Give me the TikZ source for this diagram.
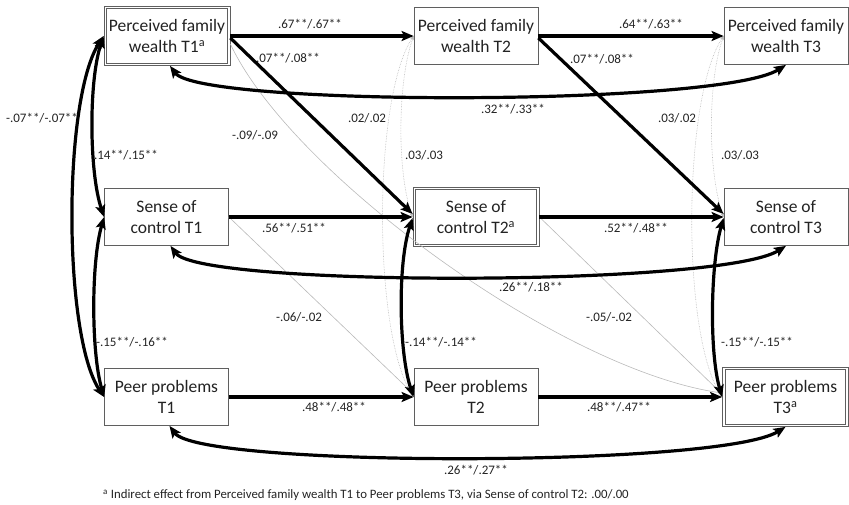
\documentclass[tikz,border=0pt]{standalone}
\usepackage{fontspec}
\setmainfont{Carlito}
\usetikzlibrary{arrows.meta,calc}
\definecolor{boxgray}{RGB}{95,95,95}
\definecolor{txt}{RGB}{35,35,35}
\definecolor{thingray}{RGB}{185,185,185}
\tikzset{
  varbox/.style={draw=boxgray, line width=0.8pt, fill=white, minimum width=124pt, minimum height=57pt,
    inner sep=0pt, align=center, text=txt, font=\fontsize{17.5}{21}\selectfont},
  dblbox/.style={varbox, minimum width=126pt, minimum height=59pt},
  innerframe/.style={draw=boxgray, line width=0.7pt},
  lab/.style={font=\fontsize{13}{15}\selectfont, text=txt, inner sep=0pt},
  bigtip/.tip={Stealth[length=12pt,width=10pt,inset=2.5pt]},
  strong/.style={draw=black, line width=3.2pt, -bigtip},
  strongcorr/.style={draw=black, line width=3.2pt, bigtip-bigtip},
  weak/.style={draw=thingray, line width=0.6pt, -{Stealth[length=4pt,width=3.5pt]}},
  weakcorr/.style={draw=thingray, line width=0.6pt, densely dotted, {Stealth[length=4pt,width=3.5pt]}-{Stealth[length=4pt,width=3.5pt]}},
}
\begin{document}
\begin{tikzpicture}[x=1pt,y=-1pt]
\useasboundingbox (0,0) rectangle (849,504);
% nodes
\node[dblbox] (pfw1) at (167,36) {Perceived family\\wealth T1\textsuperscript{a}};
\node[varbox] (pfw2) at (476,36) {Perceived family\\wealth T2};
\node[varbox] (pfw3) at (786,36) {Perceived family\\wealth T3};
\node[varbox] (sc1) at (166.5,217) {Sense of\\control T1};
\node[dblbox] (sc2) at (476,217) {Sense of\\control T2\textsuperscript{a}};
\node[varbox] (sc3) at (786,217) {Sense of\\control T3};
\node[varbox] (pp1) at (166.5,397) {Peer problems\\T1};
\node[varbox] (pp2) at (476,397) {Peer problems\\T2};
\node[dblbox] (pp3) at (785.5,397) {Peer problems\\T3\textsuperscript{a}};
% inner frames of the double boxes
\foreach \n in {pfw1,sc2,pp3}
  \draw[innerframe] ([shift={(3.2pt,2.6pt)}]\n.south west) rectangle ([shift={(-3.2pt,-2.6pt)}]\n.north east);

% thin (non-significant) paths
\draw[weak] ([yshift=-8pt]pfw1.east) .. controls (290,172) and (560,370) .. ([yshift=4pt]pp3.west);
\draw[weak] (sc1.east) -- ([yshift=3pt]pp2.west);
\draw[weak] (sc2.east) -- ([yshift=3pt]pp3.west);
\draw[weakcorr] (pfw2.west) .. controls +(-41,62) and +(-41,-62) .. (pp2.west);
\draw[weakcorr] (pfw2.west) .. controls +(-16,45) and +(-16,-45) .. (sc2.west);
\draw[weakcorr] (pfw3.west) .. controls +(-41,62) and +(-41,-62) .. (pp3.west);
\draw[weakcorr] (pfw3.west) .. controls +(-16,45) and +(-16,-45) .. (sc3.west);

% strong paths
\draw[strong] (pfw1.east) -- (pfw2.west);
\draw[strong] (pfw2.east) -- (pfw3.west);
\draw[strong] ([yshift=-2pt]pfw1.east) -- ([yshift=3pt]sc2.west);
\draw[strong] ([yshift=-2pt]pfw2.east) -- ([yshift=3pt]sc3.west);
\draw[strong] (sc1.east) -- (sc2.west);
\draw[strong] (sc2.east) -- (sc3.west);
\draw[strong] (pp1.east) -- (pp2.west);
\draw[strong] (pp2.east) -- (pp3.west);

% correlations T1
\draw[strongcorr] (pfw1.west) .. controls +(-41,64) and +(-41,-62) .. (pp1.west);
\draw[strongcorr] (pfw1.west) .. controls +(-15,45) and +(-15,-45) .. (sc1.west);
\draw[strongcorr] (sc1.west) .. controls +(-13,45) and +(-13,-45) .. (pp1.west);
% correlations T2, T3
\draw[strongcorr] ([yshift=-1pt]sc2.west) .. controls +(-15,45) and +(-15,-45) .. (pp2.west);
\draw[strongcorr] ([yshift=-1pt]sc3.west) .. controls +(-13,45) and +(-13,-45) .. (pp3.west);
% long correlations
\draw[strongcorr] ([xshift=3pt]pfw1.south) .. controls (200,106.5) and (720,106.5) .. (pfw3.south);
\draw[strongcorr] ([xshift=4pt]sc1.south) .. controls (200,287) and (720,287) .. (sc3.south);
\draw[strongcorr] ([xshift=3pt]pp1.south) .. controls (200,467.5) and (720,467.5) .. (pp3.south);

% labels
\node[lab] (l1) at (310,24) {.67**/.67**};
\node[lab] (l2) at (651,24) {.64**/.63**};
\node[lab] (l3) at (288,58) {.07**/.08**};
\node[lab] (l4) at (602,59) {.07**/.08**};
\node[lab] (l5) at (294,228) {.56**/.51**};
\node[lab] (l6) at (636,228) {.52**/.48**};
\node[lab] (l7) at (334,407) {.48**/.48**};
\node[lab] (l8) at (619,407) {.48**/.47**};
\node[lab] (l9) at (513,109) {.32**/.33**};
\node[lab] (l10) at (531,287) {.26**/.18**};
\node[lab] (l11) at (476,470) {.26**/.27**};
\node[lab] (l12) at (126,155) {.14**/.15**};
\node[lab] (l13) at (42,118) {-.07**/-.07**};
\node[lab] (l14) at (132,342) {-.15**/-.16**};
\node[lab] (l15) at (441,342) {-.14**/-.14**};
\node[lab] (l16) at (757,342) {-.15**/-.15**};
\node[lab] (l17) at (367,118) {.02/.02};
\node[lab] (l18) at (424,155) {.03/.03};
\node[lab] (l19) at (677,118) {.03/.02};
\node[lab] (l20) at (740,155) {.03/.03};
\node[lab] (l21) at (255,135) {-.09/-.09};
\node[lab] (l22) at (299,317) {-.06/-.02};
\node[lab] (l23) at (609,317) {-.05/-.02};
\node[anchor=west, inner sep=0pt, text=txt, font=\fontsize{12.8}{15}\selectfont] (note) at (103,495)
  {\textsuperscript{a} Indirect effect from Perceived family wealth T1 to Peer problems T3, via Sense of control T2: .00/.00};
\end{tikzpicture}
\end{document}
